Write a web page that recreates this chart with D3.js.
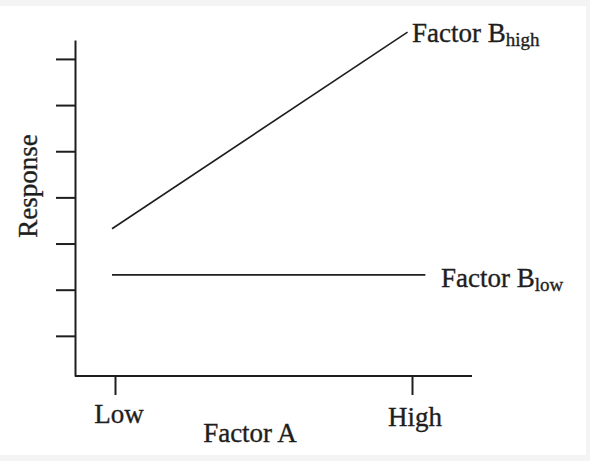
<!DOCTYPE html>
<html>
<head>
<meta charset="utf-8">
<script src="https://cdn.jsdelivr.net/npm/d3@7"></script>
<style>
  html, body { margin: 0; padding: 0; background: #f4f4f4; }
  svg { display: block; }
  text {
    font-family: "Liberation Serif", "Times New Roman", serif;
    fill: #1e1e1e;
    stroke: #1e1e1e;
    stroke-width: 0.35px;
  }
</style>
</head>
<body>
<div id="chart"></div>
<script>
/* ---- data ---------------------------------------------------------- */
const factorA     = ['Low', 'High'];            // x categories (0, 1)
const yTicks      = [1, 2, 3, 4, 5, 6, 7];      // unlabeled response ticks
const yLimits     = [0.13, 7.41];

// each series: position along Factor A (0 = Low, 1 = High) and response
const bHighA      = [-0.01, 0.985];
const bHighResp   = [3.32, 7.58];
const bLowA       = [-0.01, 1.045];
const bLowResp    = [2.32, 2.32];

/* ---- layout -------------------------------------------------------- */
const W = 590, H = 461;
const axisX0 = 75, axisX1 = 472, axisY0 = 376, axisY1 = 40;

const svg = d3.select('#chart').append('svg')
  .attr('width', W).attr('height', H);

// white page area inside the light grey frame
svg.append('rect')
  .attr('x', 0).attr('y', 6).attr('width', 586).attr('height', 449)
  .attr('fill', '#fff');

const x = d3.scaleLinear().domain([0, 1]).range([115, 412]);
const y = d3.scaleLinear().domain(yLimits).range([axisY0, axisY1]);

/* ---- axes ---------------------------------------------------------- */
const yAxis = svg.append('g')
  .attr('transform', `translate(${axisX0},0)`)
  .call(d3.axisLeft(y).tickValues(yTicks).tickSize(19).tickSizeOuter(0).tickFormat(''));

const xAxis = svg.append('g')
  .attr('transform', `translate(0,${axisY0})`)
  .call(d3.axisBottom(x).tickValues([0, 1]).tickSize(19).tickSizeOuter(0).tickFormat(''));

// x domain path runs from the y axis to the right end
xAxis.select('.domain').attr('d', `M${axisX0},0H${axisX1}`);

[yAxis, xAxis].forEach(g => {
  g.selectAll('line, path')
    .attr('stroke', '#1e1e1e')
    .attr('stroke-width', 2);
});

/* ---- tick labels / titles ----------------------------------------- */
svg.append('g').selectAll('text')
  .data(factorA).join('text')
  .attr('x', (d, i) => x(i) + (i === 0 ? 4 : 3))
  .attr('y', (d, i) => i === 0 ? 423 : 426)
  .attr('text-anchor', 'middle')
  .style('font-size', '27px')
  .text(d => d);

svg.append('text')
  .attr('x', 250).attr('y', 442)
  .attr('text-anchor', 'middle')
  .style('font-size', '27px')
  .text('Factor A');

svg.append('text')
  .attr('transform', 'translate(37,186) rotate(-90)')
  .attr('text-anchor', 'middle')
  .style('font-size', '27px')
  .text('Response');

/* ---- lines --------------------------------------------------------- */
const line = d3.line().x(d => x(d[0])).y(d => y(d[1]));

const series = [
  { a: bHighA, r: bHighResp, sub: 'high', lx: 412, ly: 42 },
  { a: bLowA,  r: bLowResp,  sub: 'low',  lx: 441, ly: 287 },
];

series.forEach(s => {
  svg.append('path')
    .datum(d3.zip(s.a, s.r))
    .attr('d', line)
    .attr('fill', 'none')
    .attr('stroke', '#1e1e1e')
    .attr('stroke-width', 1.6);

  const t = svg.append('text')
    .attr('x', s.lx).attr('y', s.ly)
    .style('font-size', '27px');
  t.append('tspan').text('Factor B');
  t.append('tspan')
    .attr('dy', 4)
    .style('font-size', '19px')
    .text(s.sub);
});
</script>
</body>
</html>
